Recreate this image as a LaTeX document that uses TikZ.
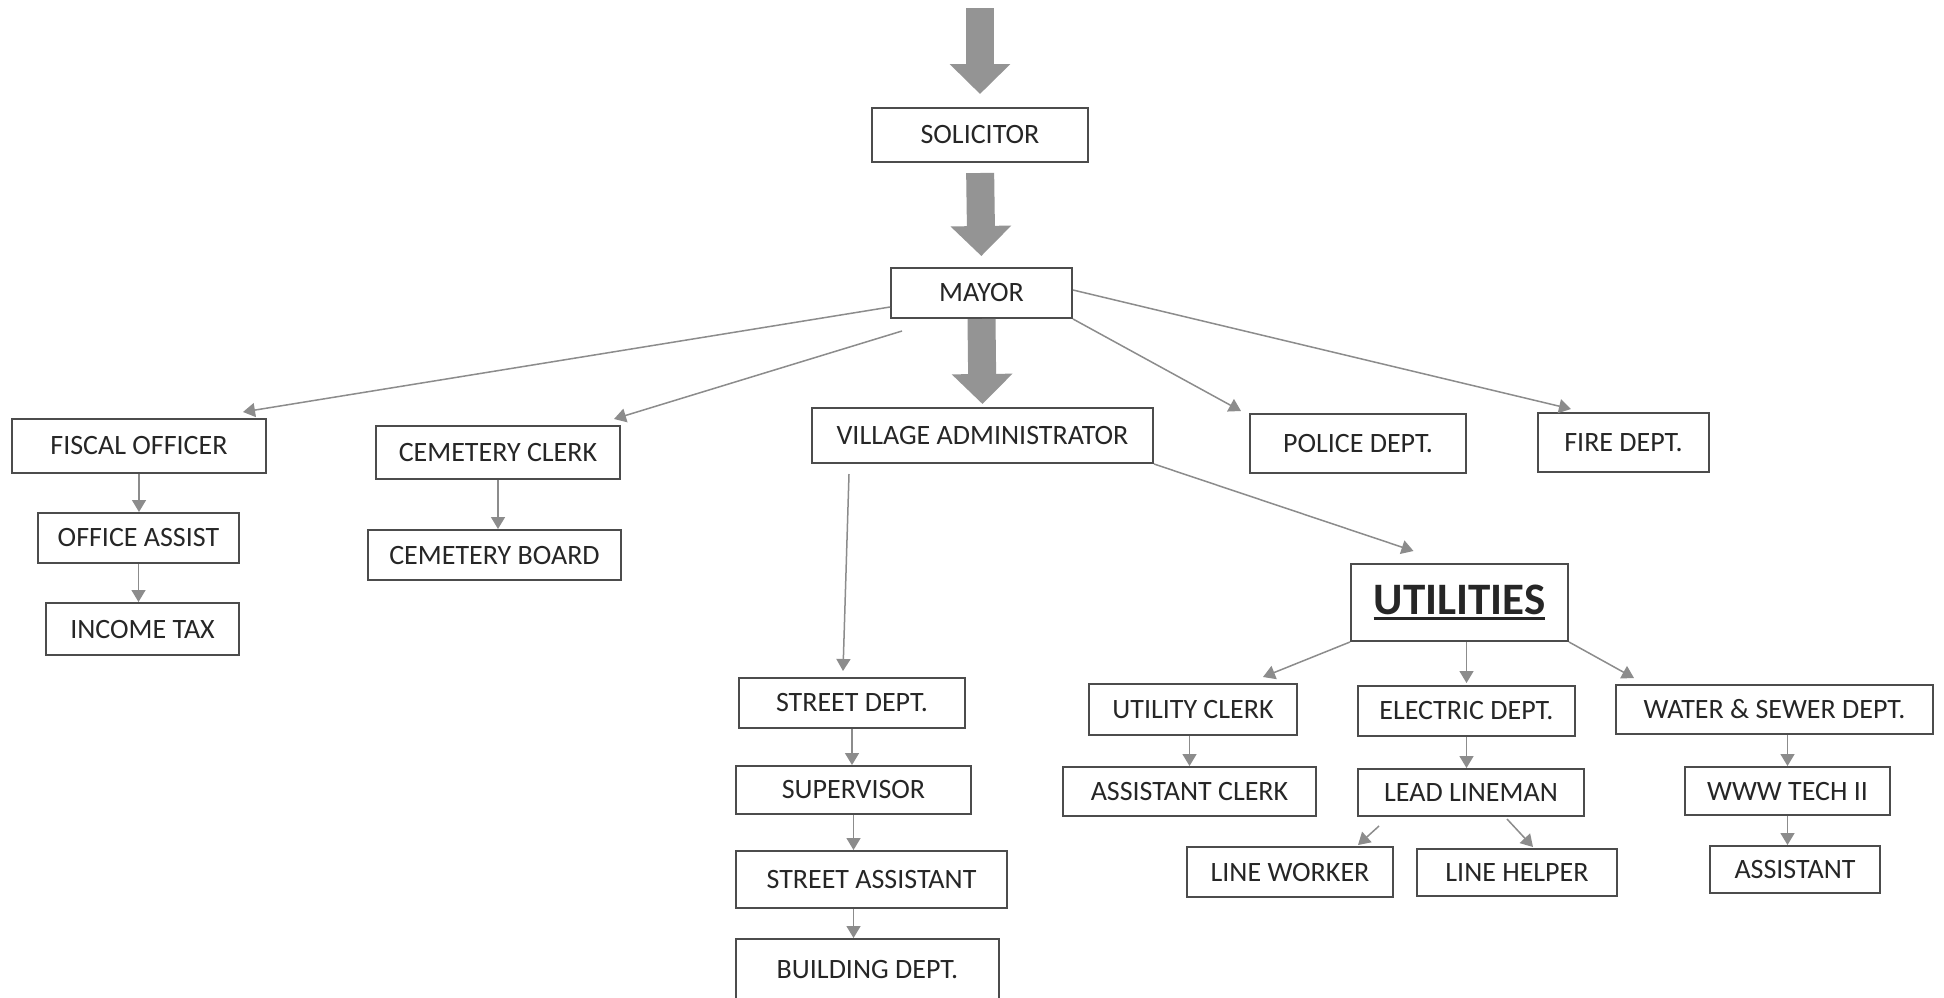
\documentclass[tikz,border=0pt]{standalone}
\usepackage{fontspec}
\setmainfont{Carlito}
\usetikzlibrary{arrows.meta}
\newcommand{\thickul}[1]{\setbox0=\hbox{#1}\rlap{\rule[-3pt]{\wd0}{1.5pt}}\box0}

\begin{document}
\begin{tikzpicture}[x=0.5pt, y=-0.5pt,
    box/.style={draw=black!70, line width=1pt, fill=white, inner sep=0pt,
        text=black!85, font=\fontsize{14pt}{16pt}\selectfont},
    conn/.style={draw=black!45, line width=0.75pt, -{Triangle[length=6pt, width=7pt, fill=black!45]}},
    bigarrow/.style={draw=black!42, line width=14pt, -{Triangle[length=15pt, width=29.5pt]}}]
    \useasboundingbox (0,0) rectangle (1944,997);
    \fill[white] (0,0) rectangle (1944,997);

    % Define nodes
    \coordinate (topin) at (980,8);
    \node[box, minimum width=108pt, minimum height=27pt] (solicitor) at (980,135) {SOLICITOR};
    \node[box, minimum width=90.5pt, minimum height=25pt] (mayor) at (981.5,293) {MAYOR};

    \node[box, minimum width=127pt, minimum height=27pt] (fiscal) at (139,446) {FISCAL OFFICER};
    \node[box, minimum width=100.5pt, minimum height=25pt] (office) at (138.5,538) {OFFICE ASSIST};
    \node[box, minimum width=96.5pt, minimum height=26pt] (income) at (142.5,629) {INCOME TAX};

    \node[box, minimum width=122pt, minimum height=26.5pt] (cemclerk) at (498,452.5) {CEMETERY CLERK};
    \node[box, minimum width=126.5pt, minimum height=25pt] (cemboard) at (494.5,555) {CEMETERY BOARD};

    \node[box, minimum width=170.5pt, minimum height=27.5pt] (village) at (982.5,435.5) {VILLAGE ADMINISTRATOR};
    \node[box, minimum width=108pt, minimum height=29.5pt] (police) at (1358,443.5) {POLICE DEPT.};
    \node[box, minimum width=85.5pt, minimum height=29.5pt] (fire) at (1623.5,442.5) {FIRE DEPT.};

    \node[box, minimum width=113pt, minimum height=25pt] (street) at (852,703) {STREET DEPT.};
    \node[box, minimum width=117.5pt, minimum height=24pt] (supervisor) at (853.5,790) {SUPERVISOR};
    \node[box, minimum width=135.5pt, minimum height=28.5pt] (streetasst) at (871.5,879.5) {STREET ASSISTANT};
    \node[box, minimum width=131.5pt, minimum height=31pt] (building) at (867.5,970) {BUILDING DEPT.};

    \node[box, minimum width=108.5pt, minimum height=38.5pt,
        font=\fontsize{22.5pt}{24pt}\selectfont\bfseries] (utilities) at (1459.5,602.5) {\thickul{UTILITIES}};

    \node[box, minimum width=104pt, minimum height=25.5pt] (utilclerk) at (1193,709.5) {UTILITY CLERK};
    \node[box, minimum width=126.5pt, minimum height=24.5pt] (asstclerk) at (1189.5,791.5) {ASSISTANT CLERK};
    \node[box, minimum width=108.5pt, minimum height=25pt] (electric) at (1466.5,711) {ELECTRIC DEPT.};
    \node[box, minimum width=113pt, minimum height=23.5pt] (lead) at (1471,792.5) {LEAD LINEMAN};
    \node[box, minimum width=103pt, minimum height=25pt] (lineworker) at (1290,872) {LINE WORKER};
    \node[box, minimum width=100pt, minimum height=23.5pt] (linehelper) at (1517,872.5) {LINE HELPER};
    \node[box, minimum width=158.5pt, minimum height=24.5pt] (water) at (1774.5,709.5) {WATER \& SEWER DEPT.};
    \node[box, minimum width=102.5pt, minimum height=24pt] (wwwtech) at (1787.5,791) {WWW TECH II};
    \node[box, minimum width=85pt, minimum height=23.5pt] (assistant) at (1795,869.5) {ASSISTANT};

    % Draw big arrows
    \draw[bigarrow] (topin) -- ([shift={(0,-13)}]solicitor.north);
    \draw[bigarrow, shorten <=5pt, shorten >=5.5pt] (solicitor.south) -- (mayor.north);
    \draw[bigarrow, shorten >=1.5pt] (mayor.south) -- (village.north);

    % Draw edges
    \draw[conn] ([shift={(0,14)}]mayor.west) -- ([shift={(104,-6)}]fiscal.north);
    \draw[conn] ([shift={(12,12)}]mayor.south west) -- ([shift={(-7,-6)}]cemclerk.north east);
    \draw[conn] (mayor.south east) -- ([shift={(-8,-2)}]police.north west);
    \draw[conn] ([shift={(0,-3)}]mayor.east) -- ([shift={(34,-3)}]fire.north west);

    \draw[conn] (fiscal.south) -- (fiscal.south |- office.north);
    \draw[conn] (office.south) -- (office.south |- income.north);

    \draw[conn] (cemclerk.south) -- (cemclerk.south |- cemboard.north);

    \draw[conn] ([shift={(38,10)}]village.south west) -- ([shift={(-9,-6)}]street.north);
    \draw[conn] (village.south east) -- ([shift={(-46,-12)}]utilities.north);

    \draw[conn] (street.south) -- (street.south |- supervisor.north);
    \draw[conn] (supervisor.south) -- (supervisor.south |- streetasst.north);
    \draw[conn] (streetasst.south -| supervisor.south) -- (supervisor.south |- building.north);

    \draw[conn] (utilities.south west) -- ([shift={(70,-6)}]utilclerk.north);
    \draw[conn] (electric.north |- utilities.south) -- ([shift={(0,-2)}]electric.north);
    \draw[conn] (utilities.south east) -- ([shift={(19,-6)}]water.north west);

    \draw[conn] (asstclerk.north |- utilclerk.south) -- (asstclerk.north);
    \draw[conn] (electric.south) -- (electric.south |- lead.north);
    \draw[conn] ([shift={(22,9)}]lead.south west) -- ([shift={(68,-1)}]lineworker.north);
    \draw[conn] ([shift={(36,2)}]lead.south) -- ([shift={(16,-1)}]linehelper.north);

    \draw[conn] (wwwtech.north |- water.south) -- (wwwtech.north);
    \draw[conn] (wwwtech.south) -- (wwwtech.south |- assistant.north);
\end{tikzpicture}
\end{document}
